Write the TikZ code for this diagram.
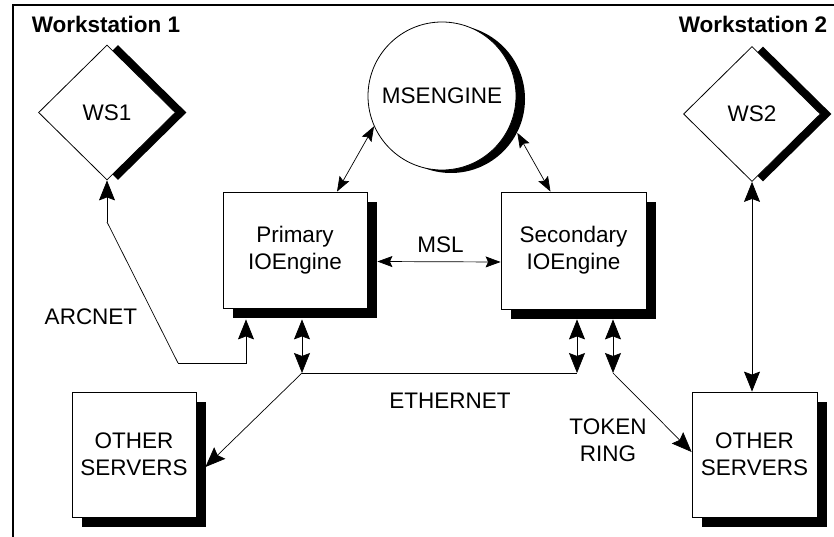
\documentclass[tikz,border=0pt]{standalone}
\usepackage{fontspec}
\setmainfont{Liberation Sans}
\usetikzlibrary{shapes.geometric,shadows,arrows.meta}

\begin{document}
\begin{tikzpicture}[x=1pt,y=-1pt,
  lbl/.style={font=\fontsize{22.5}{27}\selectfont, align=center, inner sep=0pt},
  hdr/.style={font=\fontsize{22.5}{27}\selectfont\bfseries, inner sep=0pt},
  boxshade/.style={drop shadow={shadow xshift=10pt, shadow yshift=-10pt, opacity=1, fill=black}},
  wsbox/.style={diamond, draw, line width=0.8pt, fill=white, minimum width=137pt, minimum height=135pt,
                inner sep=0pt, lbl,
                drop shadow={shadow xshift=11pt, shadow yshift=0pt, opacity=1, fill=black}},
  srvbox/.style={rectangle, draw, line width=0.8pt, fill=white, lbl, boxshade},
  link/.style={line width=0.7pt},
  bigarr/.style={link, >={Stealth[length=20pt,width=16pt,inset=3pt]}},
  smallarr/.style={link, >={Stealth[length=15pt,width=11pt,inset=2.5pt]}}
]
\useasboundingbox (0,0) rectangle (834,537);

% outer frame: top and left rules
\draw[line width=2pt] (834,5) -- (13,5) -- (13,537);

% headings
\node[hdr] (h1) at (106,24) {Workstation 1};
\node[hdr] (h2) at (753,24) {Workstation 2};

% workstations
\node[wsbox] (ws1) at (107,112.5) {WS1};
\node[wsbox] (ws2) at (752,114) {WS2};

% message server engine
\node[circle, draw, line width=0.8pt, fill=white, minimum size=148pt, inner sep=0pt, lbl,
      drop shadow={shadow xshift=9pt, shadow yshift=-3pt, opacity=1, fill=black}]
      (mse) at (442,96) {MSENGINE};

% I/O engines
\node[srvbox, minimum width=144pt, minimum height=116pt] (prim) at (295,250) {Primary\\IOEngine};
\node[srvbox, minimum width=145pt, minimum height=117pt] (sec) at (573.5,250.5) {Secondary\\IOEngine};

% other servers
\node[srvbox, minimum width=124pt, minimum height=125pt] (os1) at (134,454.5) {OTHER\\SERVERS};
\node[srvbox, minimum width=125pt, minimum height=125pt] (os2) at (754.5,454.5) {OTHER\\SERVERS};

% network labels
\node[lbl] (msl) at (440.5,244.5) {MSL};
\node[lbl] (arcnet) at (91,317) {ARCNET};
\node[lbl] (ethernet) at (450,401) {ETHERNET};
\node[lbl] (token) at (608,440) {TOKEN\\RING};

% bend and junction points
\coordinate (arcA) at (107,222);
\coordinate (arcB) at (178,363);
\coordinate (eth1) at (302,373);
\coordinate (eth2) at (577,373);
\coordinate (tr) at (613,373);

% MSENGINE links
\draw[smallarr, <->] (mse.204) -- ([xshift=42pt]prim.north);
\draw[smallarr, <->] ([shift={(9pt,-3pt)}]mse.-27) -- ([xshift=-23pt]sec.north);

% MSL
\draw[smallarr, <->] ([shift={(10pt,-11.5pt)}]prim.east) -- ([yshift=-11.5pt]sec.west);

% ARCNET
\draw[link] (arcA) -- (arcB);
\draw[bigarr, ->] (arcA) -- (ws1.south);
\draw[bigarr, ->] (arcB) -| ([shift={(-49pt,-11pt)}]prim.south);

% ETHERNET
\draw[bigarr, <->] ([shift={(7pt,-11pt)}]prim.south) -- (eth1);
\draw[bigarr, <->] ([shift={(3.5pt,-10pt)}]sec.south) -- (eth2);
\draw[link] (eth1) -- (eth2);
\draw[bigarr, ->] (eth1) -- ([shift={(9pt,-12.5pt)}]os1.east);

% TOKEN RING
\draw[bigarr, <->] ([shift={(39.5pt,-10pt)}]sec.south) -- (tr);
\draw[bigarr, ->] (tr) -- ([yshift=2.5pt]os2.west);

% workstation 2 link
\draw[bigarr, <->] (ws2.south) -- (ws2.south |- os2.north);
\end{tikzpicture}
\end{document}
